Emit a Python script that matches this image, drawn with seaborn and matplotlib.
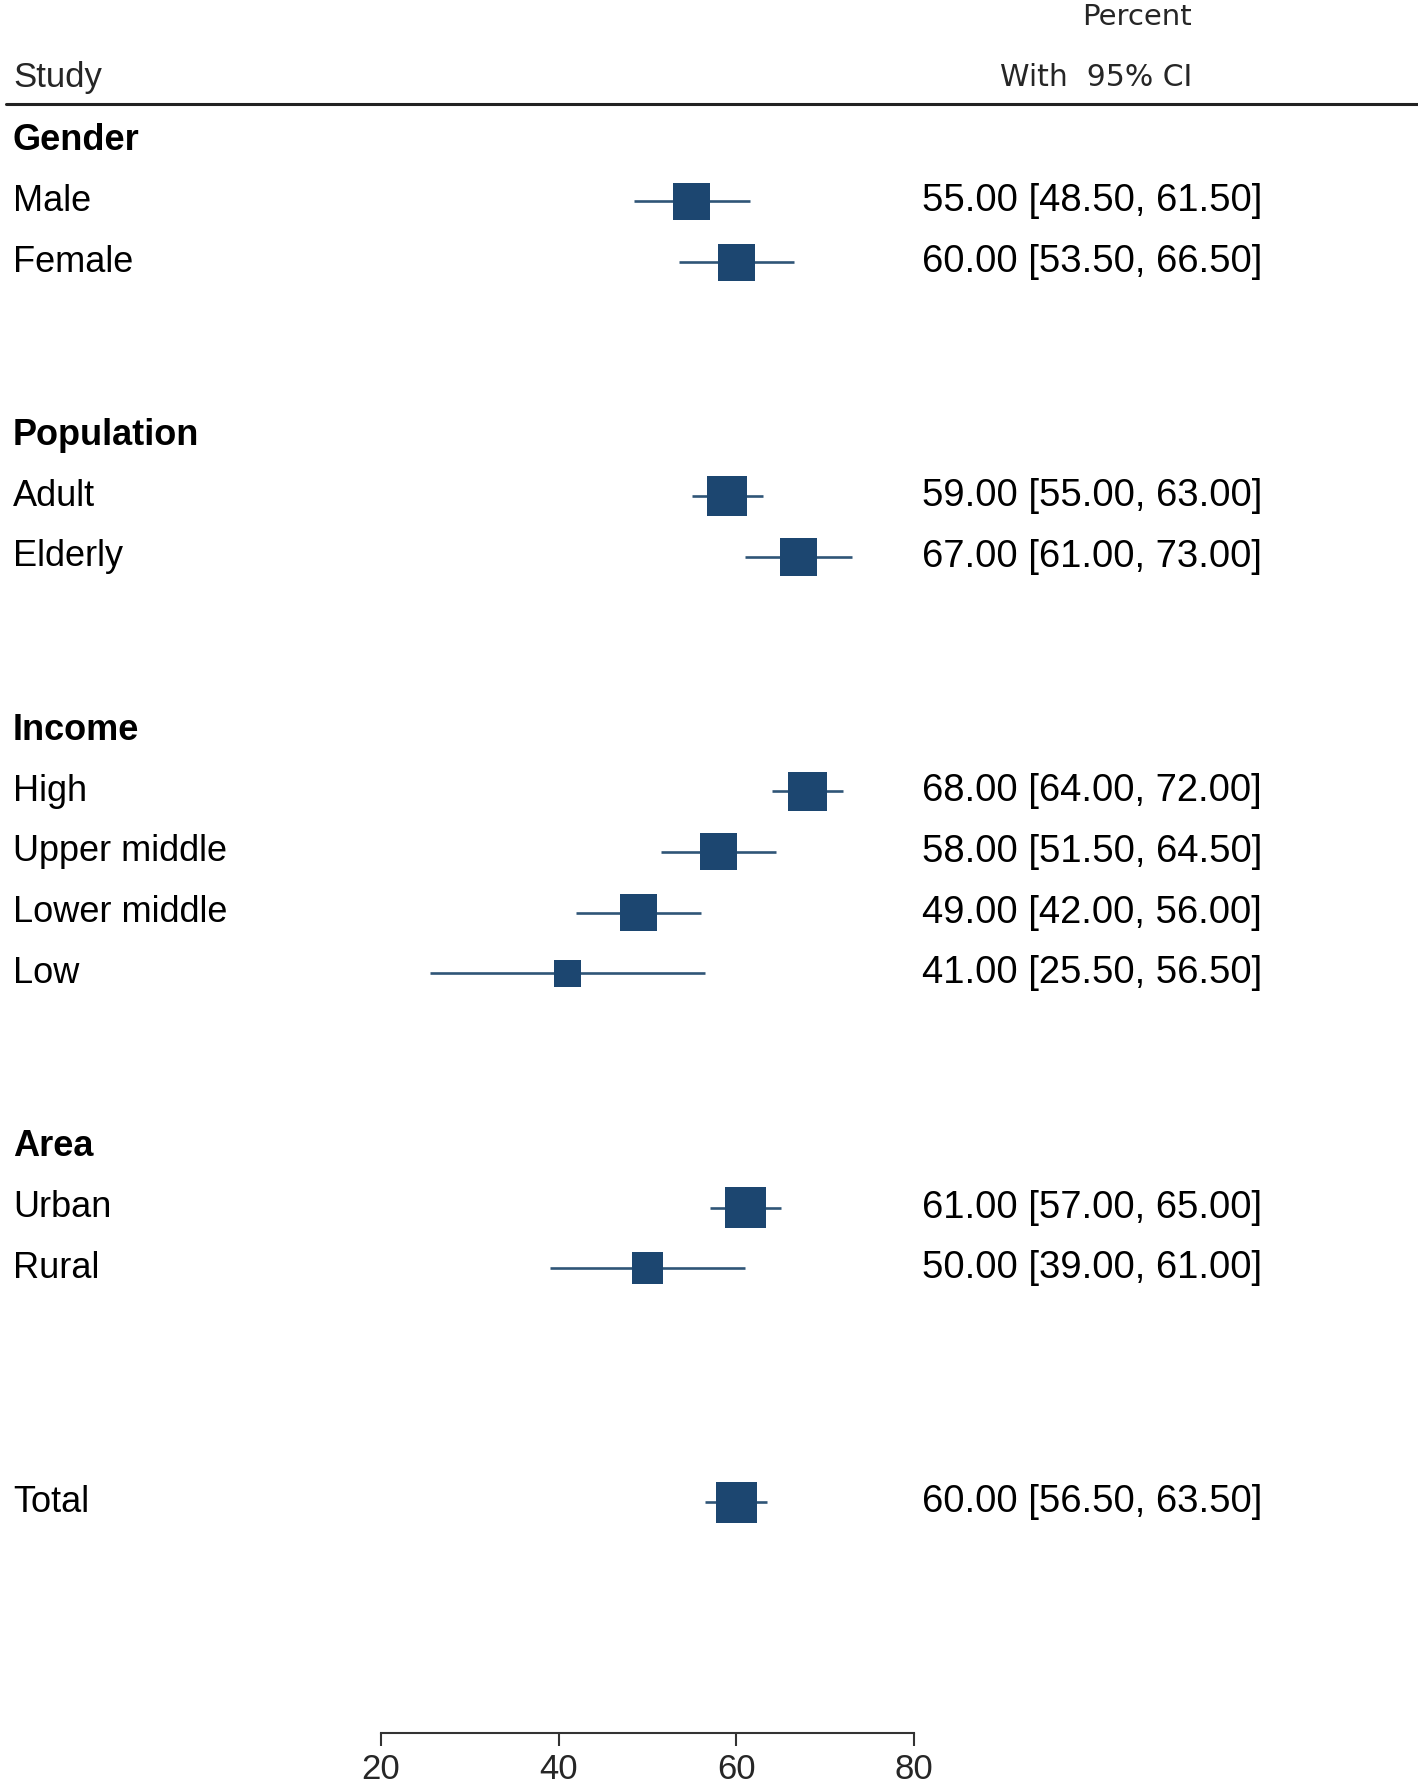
import numpy as np
import pandas as pd
import matplotlib
matplotlib.use("Agg")
import matplotlib.pyplot as plt
import matplotlib.transforms as mtransforms
from matplotlib.lines import Line2D
import seaborn as sns

groups = ["Gender", "Population", "Income", "Area"]
studies = ["Male", "Female", "Adult", "Elderly", "High", "Upper middle",
           "Lower middle", "Low", "Urban", "Rural", "Total"]
study_group = ["Gender", "Gender", "Population", "Population", "Income", "Income",
               "Income", "Income", "Area", "Area", "Total"]
percent = [55.0, 60.0, 59.0, 67.0, 68.0, 58.0, 49.0, 41.0, 61.0, 50.0, 60.0]
ci_low = [48.5, 53.5, 55.0, 61.0, 64.0, 51.5, 42.0, 25.5, 57.0, 39.0, 56.5]
ci_high = [61.5, 66.5, 63.0, 73.0, 72.0, 64.5, 56.0, 56.5, 65.0, 61.0, 63.5]
weights = [13.7, 13.7, 16.0, 14.4, 15.2, 13.7, 13.7, 7.3, 16.8, 10.2, 16.8]
x_ticks = [20, 40, 60, 80]

# row layout: header, its rows, then a gap before the next block
row_y = []
header_y = {}
pos = 0.0
for g in groups:
    header_y[g] = pos
    for s, sg in zip(studies, study_group):
        if sg == g:
            pos += 1
            row_y.append(pos)
    pos += 2.85
row_y.append(pos - 2.85 + 3.85)

df = pd.DataFrame({"study": studies, "group": study_group, "percent": percent,
                   "lo": ci_low, "hi": ci_high, "weight": weights, "y": row_y})

sns.set_style("white")
plt.rcParams["font.family"] = ["Liberation Sans", "DejaVu Sans"]

W, H = 1418, 1785
fig = plt.figure(figsize=(W / 100, H / 100), dpi=100)
ax_bottom = 1733
ax = fig.add_axes([381 / W, 1 - ax_bottom / H, (914 - 381) / W, ax_bottom / H])
ax.set_facecolor("none")

box_col = "#1C4670"
line_col = "#2F5577"

ax.hlines(df["y"], df["lo"], df["hi"], color=line_col, linewidth=1.9, zorder=2)
sns.scatterplot(data=df, x="percent", y="y", size="weight", sizes=(378, 871),
                size_norm=(7.3, 16.8), marker="s", color=box_col, linewidth=0,
                legend=False, ax=ax, zorder=3)

row0_px = 140.5
unit_px = 60.8
ax.set_xlim(20, 80)
ax.set_ylim((ax_bottom - row0_px) / unit_px, -row0_px / unit_px)

for side in ["top", "right", "left"]:
    ax.spines[side].set_visible(False)
ax.spines["bottom"].set_bounds(20, 80)
ax.spines["bottom"].set_linewidth(1.5)
ax.spines["bottom"].set_color("#333333")
ax.set_xticks(x_ticks)
ax.set_xticklabels([str(t) for t in x_ticks])
ax.tick_params(axis="x", direction="out", length=9.5, width=1.5, color="#333333",
               labelsize=25, pad=5, bottom=True)
ax.set_yticks([])
ax.set_xlabel("")
ax.set_ylabel("")

trans = mtransforms.blended_transform_factory(fig.transFigure, ax.transData)
for g in groups:
    ax.text(13 / W, header_y[g], g, transform=trans, fontsize=26,
            fontweight="bold", va="center", ha="left", color="black")
for _, r in df.iterrows():
    ax.text(13 / W, r["y"], r["study"], transform=trans, fontsize=26,
            va="center", ha="left", color="black")
    ax.text(1262 / W, r["y"], f"{r['percent']:.2f} [{r['lo']:.2f}, {r['hi']:.2f}]",
            transform=trans, fontsize=27.5, va="center", ha="right", color="black")

# header
fig.text(13 / W, 1 - 77 / H, "Study", fontsize=25, va="center", ha="left")
fig.text(1192 / W, 1 - 17 / H, "Percent", fontsize=21, va="center", ha="right",
         family=["DejaVu Sans"])
fig.text(1192 / W, 1 - 77 / H, "With  95% CI", fontsize=21.5, va="center", ha="right",
         family=["DejaVu Sans"])
fig.add_artist(Line2D([6 / W, 1419 / W], [1 - 104 / H, 1 - 104 / H],
                      transform=fig.transFigure, color="#222222", linewidth=2.2))

fig.savefig("out.png", dpi=100, facecolor="white")
